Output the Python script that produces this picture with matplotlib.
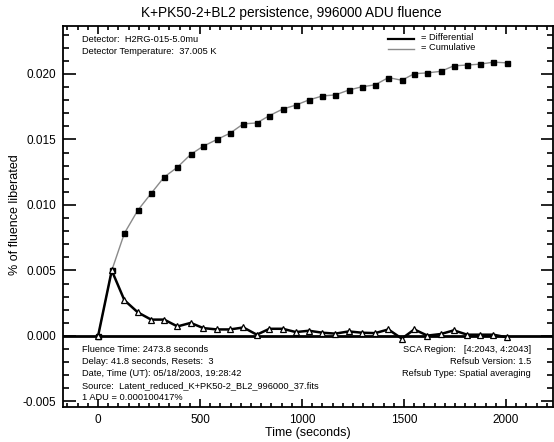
import matplotlib
matplotlib.use("Agg")
import matplotlib.pyplot as plt
from matplotlib.ticker import MultipleLocator

plt.rcParams['font.family'] = ['Liberation Sans', 'DejaVu Sans']

# Data
time_s = [0, 67, 129, 195, 260, 324, 389, 454, 516, 583, 647, 712, 778, 840,
          905, 969, 1034, 1100, 1163, 1229, 1293, 1358, 1423, 1489, 1550, 1614,
          1680, 1744, 1809, 1873, 1938, 2003]
differential = [0.0, 0.0050, 0.00273, 0.0018, 0.00125, 0.00125, 0.00073, 0.0010,
                0.0006, 0.0005, 0.0005, 0.00065, 0.0001, 0.00055, 0.00055, 0.0003,
                0.0004, 0.00025, 0.00018, 0.00035, 0.00025, 0.00022, 0.0005,
                -0.0002, 0.0005, 0.00003, 0.00015, 0.00043, 0.0001, 0.0001,
                0.0001, -0.0001]
cumulative = [0.0, 0.0050, 0.00784, 0.0096, 0.01088, 0.01213, 0.01288, 0.01386,
              0.01449, 0.01500, 0.01548, 0.01619, 0.01626, 0.01682, 0.01732,
              0.01762, 0.01802, 0.01832, 0.01840, 0.01877, 0.01902, 0.01917,
              0.01972, 0.01952, 0.02002, 0.02008, 0.02020, 0.02062, 0.02068,
              0.02075, 0.02090, 0.02085]

title = "K+PK50-2+BL2 persistence, 996000 ADU fluence"
xlabel = "Time (seconds)"
ylabel = "% of fluence liberated"
top_left_text = ["Detector:  H2RG-015-5.0mu", "Detector Temperature:  37.005 K"]
bottom_left_text = ["Fluence Time: 2473.8 seconds",
                    "Delay: 41.8 seconds, Resets:  3",
                    "Date, Time (UT): 05/18/2003, 19:28:42",
                    "Source:  Latent_reduced_K+PK50-2_BL2_996000_37.fits",
                    "1 ADU = 0.000100417%"]
bottom_right_text = ["SCA Region:   [4:2043, 4:2043]",
                     "Refsub Version: 1.5",
                     "Refsub Type: Spatial averaging"]

W, H = 554, 442
fig = plt.figure(figsize=(W / 100, H / 100), dpi=100)
ax = fig.add_axes([63 / W, 1 - 407 / H, (553 - 63) / W, (407 - 26) / H])

ax.set_xlim(-172, 2230)
ax.set_ylim(-0.00542, 0.02366)

ax.axhline(0, color='black', lw=2.0, zorder=1)
ax.plot(time_s, cumulative, color='#8a8a8a', lw=1.0, marker='s', ms=3.6,
        mfc='black', mec='black', zorder=3)
ax.plot(time_s, differential, color='black', lw=1.8, marker='^', ms=4.8,
        mfc='white', mec='black', mew=0.9, zorder=4)

ax.xaxis.set_major_locator(MultipleLocator(500))
ax.xaxis.set_minor_locator(MultipleLocator(50))
ax.yaxis.set_major_locator(MultipleLocator(0.005))
ax.yaxis.set_minor_locator(MultipleLocator(0.001))
ax.yaxis.set_major_formatter(plt.FuncFormatter(lambda v, p: f"{v:.3f}"))
ax.tick_params(which='both', direction='in', top=True, right=True, width=1.2,
               labelsize=8.5)
ax.tick_params(axis='x', which='major', length=6, pad=5)
ax.tick_params(axis='x', which='minor', length=3)
ax.tick_params(axis='y', which='major', length=9, pad=5)
ax.tick_params(axis='y', which='minor', length=4.5)
for s in ax.spines.values():
    s.set_linewidth(1.3)

ax.set_xlabel(xlabel, fontsize=9, labelpad=1)
fig.text(15 / W, 1 - 215 / H, ylabel, rotation=90, ha='center', va='center',
         fontsize=9)
fig.text(291 / W, 1 - 13 / H, title, ha='center', va='center', fontsize=9.8)

fs = 6.7
for i, t in enumerate(top_left_text):
    fig.text(82 / W, 1 - (40 + i * 12) / H, t, fontsize=fs, va='center')
# legend
fig.lines.append(plt.Line2D([388 / W, 414 / W], [1 - 39 / H, 1 - 39 / H],
                            transform=fig.transFigure, color='black', lw=1.6))
fig.lines.append(plt.Line2D([388 / W, 414 / W], [1 - 49 / H, 1 - 49 / H],
                            transform=fig.transFigure, color='#8a8a8a', lw=1.0))
fig.text(421 / W, 1 - 38 / H, "= Differential", fontsize=fs, va='center')
fig.text(421 / W, 1 - 48 / H, "= Cumulative", fontsize=fs, va='center')

for i, t in enumerate(bottom_left_text):
    fig.text(82 / W, 1 - (350 + i * 12) / H, t, fontsize=fs, va='center')
for i, t in enumerate(bottom_right_text):
    fig.text(531 / W, 1 - (350 + i * 12) / H, t, fontsize=fs, va='center', ha='right')

fig.savefig("out.png", dpi=100)
